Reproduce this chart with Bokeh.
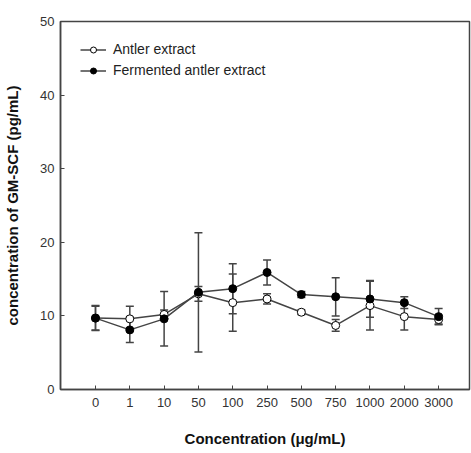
from bokeh.plotting import figure
from bokeh.models import ColumnDataSource, Whisker, TeeHead, Legend, LegendItem, FixedTicker, Range1d
from bokeh.embed import file_html
from bokeh.resources import INLINE

categories = ["0", "1", "10", "50", "100", "250", "500", "750", "1000", "2000", "3000"]
antler = [9.7, 9.6, 10.2, 13.0, 11.8, 12.3, 10.5, 8.7, 11.4, 9.9, 9.5]
antler_err = [1.6, 1.7, 0.6, 1.0, 3.9, 0.7, 0.3, 0.8, 3.3, 1.8, 0.6]
fermented = [9.7, 8.1, 9.6, 13.2, 13.7, 15.9, 12.9, 12.6, 12.3, 11.8, 9.9]
fermented_err = [1.7, 1.7, 3.7, 8.1, 3.4, 1.7, 0.4, 2.6, 2.5, 0.8, 1.1]

xs = list(range(len(categories)))
c = "#444444"
font = "Liberation Sans"

p = figure(width=471, height=453, output_backend="svg", toolbar_location=None,
           x_range=Range1d(-1.02, 10.9), y_range=Range1d(0, 50),
           min_border_left=60, min_border_right=2, min_border_top=21, min_border_bottom=64)
p.xgrid.visible = False
p.ygrid.visible = False
p.outline_line_color = c
p.outline_line_width = 1.5
p.background_fill_color = "white"

src_a = ColumnDataSource(dict(x=xs, y=antler, lo=[v - e for v, e in zip(antler, antler_err)],
                              hi=[v + e for v, e in zip(antler, antler_err)]))
src_f = ColumnDataSource(dict(x=xs, y=fermented, lo=[v - e for v, e in zip(fermented, fermented_err)],
                              hi=[v + e for v, e in zip(fermented, fermented_err)]))

for src in (src_a, src_f):
    w = Whisker(source=src, base="x", upper="hi", lower="lo", line_color=c, line_width=1.5,
                upper_head=TeeHead(size=8, line_color=c, line_width=1.5),
                lower_head=TeeHead(size=8, line_color=c, line_width=1.5))
    p.add_layout(w)

la = p.line("x", "y", source=src_a, line_color=c, line_width=1.5)
ca = p.scatter("x", "y", source=src_a, size=8, fill_color="white", line_color="black", line_width=1)
lf = p.line("x", "y", source=src_f, line_color=c, line_width=1.5)
cf = p.scatter("x", "y", source=src_f, size=8, fill_color="black", line_color="black", line_width=1)

legend = Legend(items=[LegendItem(label="Antler extract", renderers=[la, ca]),
                       LegendItem(label="Fermented antler extract", renderers=[lf, cf])],
                location="top_left", border_line_color=None, background_fill_alpha=0,
                label_text_font=font, label_text_font_size="14px", label_text_color="#222222",
                glyph_width=26, glyph_height=15, spacing=5, padding=4, label_standoff=7,
                margin=20)
p.add_layout(legend, "center")

p.xaxis.ticker = FixedTicker(ticks=xs)
p.xaxis.major_label_overrides = {i: s for i, s in enumerate(categories)}
p.yaxis.ticker = FixedTicker(ticks=[0, 10, 20, 30, 40, 50])

for ax in (p.xaxis[0], p.yaxis[0]):
    ax.axis_line_color = c
    ax.axis_line_width = 1.5
    ax.major_tick_in = 4
    ax.major_tick_out = 0
    ax.major_tick_line_color = c
    ax.minor_tick_line_color = None
    ax.major_label_text_font = font
    ax.major_label_text_font_size = "13px"
    ax.major_label_text_color = "#333333"
    ax.axis_label_text_font = font
    ax.axis_label_text_font_style = "bold"
    ax.axis_label_text_font_size = "15px"
    ax.axis_label_text_color = "#111111"

p.xaxis.axis_label = "Concentration (\u03bcg/mL)"
p.yaxis.axis_label = "concentration of GM-SCF (pg/mL)"
p.xaxis.major_label_standoff = 8
p.xaxis.axis_label_standoff = 20
p.yaxis.major_label_standoff = 6
p.yaxis.axis_label_standoff = 16

open("out.html", "w").write(file_html(p, INLINE))
